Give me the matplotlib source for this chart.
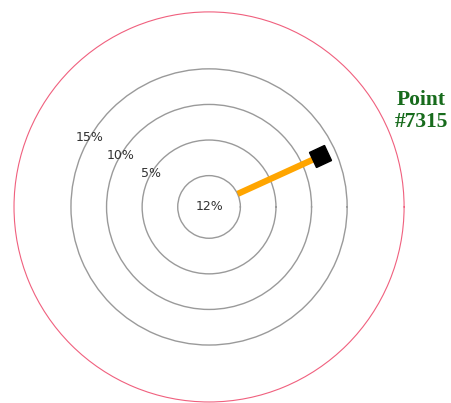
import numpy as np
import matplotlib.pyplot as plt
from matplotlib.markers import MarkerStyle
from matplotlib.transforms import Affine2D

# ring values (%) and the single point
ring_values = [5, 10, 15]
ring_labels = ['5%', '10%', '15%']
point_name = 'Point\n#7315'
point_angle_deg = 24.5
point_value = 12.7
center_label = '12%'
r_max = 23

fig = plt.figure(figsize=(4.52, 4.03), dpi=100)
ax = fig.add_axes([0.031, 0.0025, 0.863, 0.968], projection='polar')

ax.set_rorigin(-4.4)
ax.set_ylim(0, r_max)
ax.set_yticks(ring_values)
ax.set_yticklabels([])
ax.set_xticks([])
ax.tick_params(axis='y', length=0)
ax.grid(False)
ax.yaxis.grid(True, color='#9a9a9a', linewidth=1.0)

ax.spines['polar'].set_color('#f0607e')
ax.spines['polar'].set_linewidth(0.8)
ax.spines['inner'].set_color('#9a9a9a')
ax.spines['inner'].set_linewidth(1.0)

for v, lab in zip(ring_values, ring_labels):
    ax.text(np.deg2rad(150), v, lab, ha='center', va='center',
            fontsize=9, color='#333333')

th = np.deg2rad(point_angle_deg)
ax.plot([th, th], [0, point_value], color='#ffa500', linewidth=4.5,
        solid_capstyle='butt', zorder=3)
marker = MarkerStyle('s', transform=Affine2D().rotate_deg(point_angle_deg))
ax.plot([th], [point_value], marker=marker, color='black', markersize=12,
        linestyle='none', zorder=4)

ax.text(0, -4.4, center_label, ha='center', va='center', fontsize=9,
        color='#333333')

fig.text(421 / 452, 1 - 111 / 403, point_name, ha='center', va='center',
         fontsize=15.5, fontweight='bold', family='Liberation Serif',
         color='#176b1c', linespacing=1.1)

fig.savefig('out.png', dpi=100, facecolor='white')
